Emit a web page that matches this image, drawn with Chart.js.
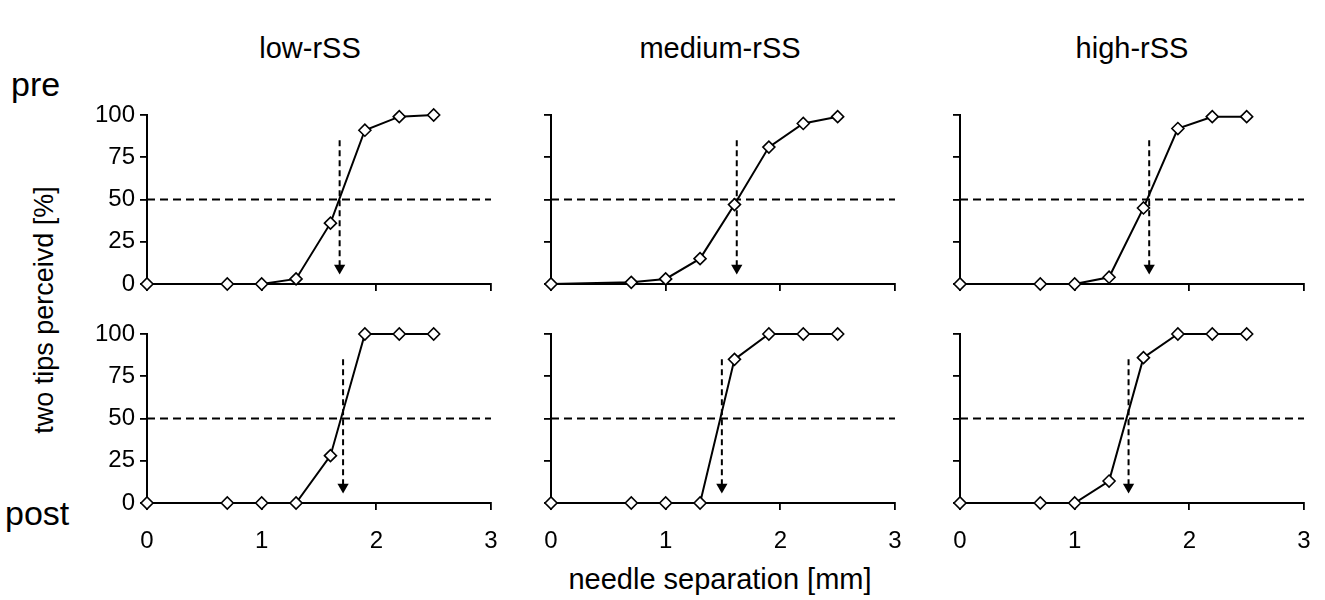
<!DOCTYPE html>
<html>
<head>
<meta charset="utf-8">
<script src="https://cdn.jsdelivr.net/npm/chart.js@4.4.1/dist/chart.umd.min.js"></script>
<style>
body { margin: 0; background: #fff; font-family: "Liberation Sans", Arial, sans-serif; color: #000; }
#page { position: relative; width: 1325px; height: 600px; overflow: hidden; }
canvas { position: absolute; }
.lbl { position: absolute; white-space: nowrap; line-height: 1; }
</style>
</head>
<body>
<div id="page">
  <div class="lbl" style="font-size:29px; left:310px; top:34px; transform:translateX(-50%)">low-rSS</div>
  <div class="lbl" style="font-size:29px; left:720px; top:34px; transform:translateX(-50%)">medium-rSS</div>
  <div class="lbl" style="font-size:29px; left:1132px; top:34px; transform:translateX(-50%)">high-rSS</div>
  <div class="lbl" style="font-size:34px; left:11px; top:67px">pre</div>
  <div class="lbl" style="font-size:34px; left:5px; top:496px">post</div>
  <div class="lbl" style="font-size:27px; left:44px; top:310px; transform:translate(-50%,-50%) rotate(-90deg)">two tips perceivd [%]</div>
  <div class="lbl" style="font-size:29px; left:720px; top:565px; transform:translateX(-50%)">needle separation [mm]</div>
</div>
<script>
// needle separations tested (mm)
const sepMm = [0, 0.7, 1.0, 1.3, 1.6, 1.9, 2.2, 2.5];

// percent of trials where two tips were perceived
const lowPre   = [0, 0, 0, 3, 36, 91, 99, 100];
const medPre   = [0, 1, 3, 15, 47, 81, 95, 99];
const highPre  = [0, 0, 0, 4, 45, 92, 99, 99];
const lowPost  = [0, 0, 0, 0, 28, 100, 100, 100];
const medPost  = [0, 0, 0, 0, 85, 100, 100, 100];
const highPost = [0, 0, 0, 13, 86, 100, 100, 100];

// 50% thresholds (mm), arrow from top value down to tip value
const preThresh  = [1.68, 1.62, 1.65];
const postThresh = [1.71, 1.49, 1.47];
const arrowTop = 85;
const arrowEnd = 9.5;
const criterion = 50;

const xTicks = [0, 1, 2, 3];
const yTicks = [0, 25, 50, 75, 100];

const colX = [147, 551, 960];
const rowY = [115, 334];
const plotW = 344, plotH = 169;
const padL = 60, padR = 20, padT = 20, padB = 50;

const panels = [
  { row: 0, col: 0, data: lowPre,   thr: preThresh[0] },
  { row: 0, col: 1, data: medPre,   thr: preThresh[1] },
  { row: 0, col: 2, data: highPre,  thr: preThresh[2] },
  { row: 1, col: 0, data: lowPost,  thr: postThresh[0] },
  { row: 1, col: 1, data: medPost,  thr: postThresh[1] },
  { row: 1, col: 2, data: highPost, thr: postThresh[2] }
];

const page = document.getElementById('page');
const tickFont = { family: '"Liberation Sans", Arial, sans-serif', size: 24 };

panels.forEach(function(p) {
  const cv = document.createElement('canvas');
  const w = plotW + padL + padR, h = plotH + padT + padB;
  cv.width = w; cv.height = h;
  cv.style.width = w + 'px'; cv.style.height = h + 'px';
  cv.style.left = (colX[p.col] - padL) + 'px';
  cv.style.top = (rowY[p.row] - padT) + 'px';
  page.appendChild(cv);

  new Chart(cv.getContext('2d'), {
    type: 'scatter',
    data: {
      datasets: [
        {
          data: sepMm.map((x, i) => ({ x: x, y: p.data[i] })),
          showLine: true,
          borderColor: '#000',
          borderWidth: 2,
          pointStyle: 'rectRot',
          pointRadius: 6,
          pointBackgroundColor: '#fff',
          pointBorderColor: '#000',
          pointBorderWidth: 1.6,
          clip: false
        },
        {
          data: [{ x: p.thr, y: arrowTop }, { x: p.thr, y: arrowEnd }],
          showLine: true,
          borderColor: '#000',
          borderWidth: 2,
          borderDash: [6, 4],
          pointStyle: 'triangle',
          rotation: 180,
          pointRadius: [0, 6.5],
          pointBackgroundColor: '#000',
          pointBorderWidth: 0,
          clip: false
        },
        {
          data: [{ x: xTicks[0], y: criterion }, { x: xTicks[xTicks.length - 1], y: criterion }],
          showLine: true,
          borderColor: '#000',
          borderWidth: 1.8,
          borderDash: [8, 5],
          pointRadius: 0
        }
      ]
    },
    options: {
      responsive: false,
      animation: false,
      events: [],
      layout: { padding: { left: 0, right: padR, top: padT, bottom: 0 } },
      plugins: { legend: { display: false }, tooltip: { enabled: false } },
      scales: {
        x: {
          type: 'linear',
          min: 0, max: 3,
          afterBuildTicks: s => { s.ticks = xTicks.map(v => ({ value: v })); },
          afterFit: s => { s.height = padB; s.paddingLeft = 0; s.paddingRight = 0; },
          border: { display: true, color: '#000', width: 2 },
          grid: { drawOnChartArea: false, drawTicks: true, tickLength: 7, color: '#000', lineWidth: 1.8 },
          ticks: { display: p.row === 1, color: '#000', font: tickFont, padding: 17 }
        },
        y: {
          type: 'linear',
          min: 0, max: 100,
          afterBuildTicks: s => { s.ticks = yTicks.map(v => ({ value: v })); },
          afterFit: s => { s.width = padL; s.paddingTop = 0; s.paddingBottom = 0; },
          border: { display: true, color: '#000', width: 2 },
          grid: { drawOnChartArea: false, drawTicks: true, tickLength: 7, color: '#000', lineWidth: 1.8 },
          ticks: { display: p.col === 0, color: '#000', font: tickFont, padding: 5 }
        }
      }
    }
  });
});
</script>
</body>
</html>
